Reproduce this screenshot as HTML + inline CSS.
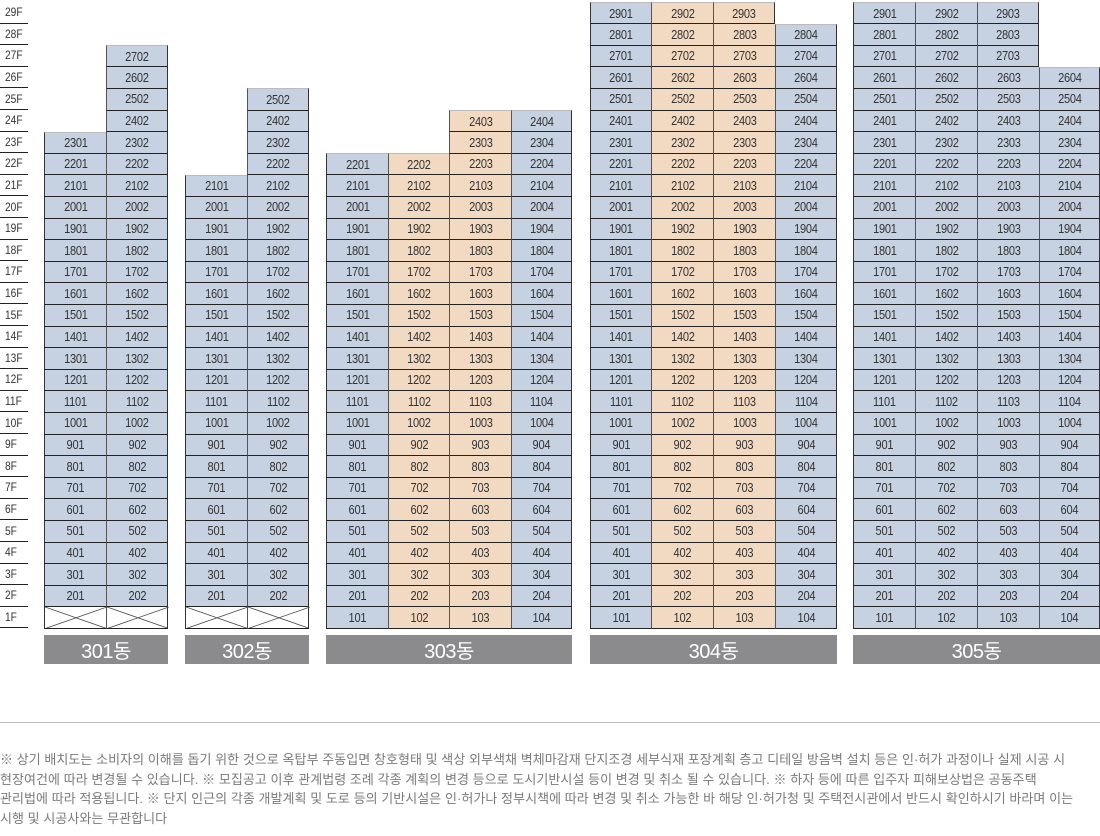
<!DOCTYPE html>
<html><head><meta charset="utf-8">
<style>
html,body{margin:0;padding:0;background:#fff;}
body{width:1100px;height:836px;position:relative;overflow:hidden;font-family:"Liberation Sans","Noto Sans CJK KR",sans-serif;}
.cell{position:absolute;box-sizing:border-box;display:flex;align-items:center;justify-content:center;font-family:"Liberation Sans Narrow","Liberation Sans",sans-serif;font-size:13px;color:#333;letter-spacing:-0.3px;}
.cell span{display:inline-block;transform:scaleX(0.85);}
.fl{position:absolute;left:0;width:28px;box-sizing:border-box;border-bottom:1.5px solid #222;font-size:12px;color:#333;display:flex;align-items:center;padding-left:5px;font-family:"Liberation Sans Narrow","Liberation Sans",sans-serif;}
.fl span{display:inline-block;transform:scaleX(0.85);transform-origin:left center;}
.bl{position:absolute;top:635px;height:29px;background:#8b8b8d;color:#fff;font-size:20px;display:flex;align-items:center;justify-content:center;letter-spacing:-0.5px;}
#foot{position:absolute;left:0;top:750px;width:1100px;font-size:13px;line-height:19.7px;color:#7a7a7a;letter-spacing:0.05px;white-space:nowrap;}
#rule{position:absolute;left:0;top:722px;width:1100px;height:1px;background:#bdbdbd;}
</style></head>
<body>
<div id="chart"></div>
<div id="rule"></div>
<div id="foot">※ 상기 배치도는 소비자의 이해를 돕기 위한 것으로 옥탑부 주동입면 창호형태 및 색상 외부색채 벽체마감재 단지조경 세부식재 포장계획 층고 디테일 방음벽 설치 등은 인·허가 과정이나 실제 시공 시<br>현장여건에 따라 변경될 수 있습니다. ※ 모집공고 이후 관계법령 조례 각종 계획의 변경 등으로 도시기반시설 등이 변경 및 취소 될 수 있습니다. ※ 하자 등에 따른 입주자 피해보상법은 공동주택<br>관리법에 따라 적용됩니다. ※ 단지 인근의 각종 개발계획 및 도로 등의 기반시설은 인·허가나 정부시책에 따라 변경 및 취소 가능한 바 해당 인·허가청 및 주택전시관에서 반드시 확인하시기 바라며 이는<br>시행 및 시공사와는 무관합니다</div>
<script>
const buildingNames=["301동","302동","303동","304동","305동"];
const topFloors=[[23,27],[21,25],[22,22,24,24],[29,29,29,28],[29,29,29,26]];
const crossedFirst=[true,true,false,false,false];
const orangeCols=[[],[],[1,2],[1,2],[]];
const floorCount=29;

const colX=[[44,106,168],[185,247,309],[326,388,449,511,572],[590,651,713,775,837],[853,915,977,1039,1100]];
const ROW0=2, RH=21.6;
const chart=document.getElementById('chart');
function rowTop(f){return ROW0+(floorCount-f)*RH;}

for(let f=floorCount;f>=1;f--){
  const d=document.createElement('div');
  d.className='fl';
  
  
  d.style.top=rowTop(f)+'px';d.style.height=RH+'px';
  d.innerHTML='<span>'+f+'F</span>';
  chart.appendChild(d);
}
buildingNames.forEach((name,b)=>{
  const xs=colX[b];
  topFloors[b].forEach((tf,c)=>{
    const x0=xs[c],x1=xs[c+1];
    for(let f=1;f<=tf;f++){
      const d=document.createElement('div');
      d.className='cell';
      const y=rowTop(f);
      d.style.left=x0+'px';d.style.top=y+'px';
      d.style.width=(x1-x0)+'px';d.style.height=(RH+0.6)+'px';
      d.style.borderBottom='1.5px solid #222';
      d.style.borderLeft=c===0?'1px solid #333':'1px solid #555';
      if(c===xs.length-2||(topFloors[b][c+1]!==undefined&&f>topFloors[b][c+1])) d.style.borderRight='1px solid #333';
      if(f===tf) d.style.borderTop='1px solid #bbb';
      if(f===1&&crossedFirst[b]){
        
        
        d.style.background='#fff';
        d.innerHTML='<svg width="'+(x1-x0)+'" height="'+RH+'" style="position:absolute;left:0;top:0"><line x1="0" y1="0" x2="'+(x1-x0)+'" y2="'+RH+'" stroke="#444" stroke-width="0.8"/><line x1="0" y1="'+RH+'" x2="'+(x1-x0)+'" y2="0" stroke="#444" stroke-width="0.8"/></svg>';
      } else {
        const unit=f*100+c+1;
        
        
        d.style.background=orangeCols[b].includes(c)?'#f2d9c1':'#c6d1e1';
        d.innerHTML='<span>'+unit+'</span>';
      }
      chart.appendChild(d);
    }
  });
  const l=document.createElement('div');
  l.className='bl';
  
  
  l.style.left=xs[0]+'px';l.style.width=(xs[xs.length-1]-xs[0])+'px';
  l.textContent=name;
  chart.appendChild(l);
});
</script>
</body></html>
